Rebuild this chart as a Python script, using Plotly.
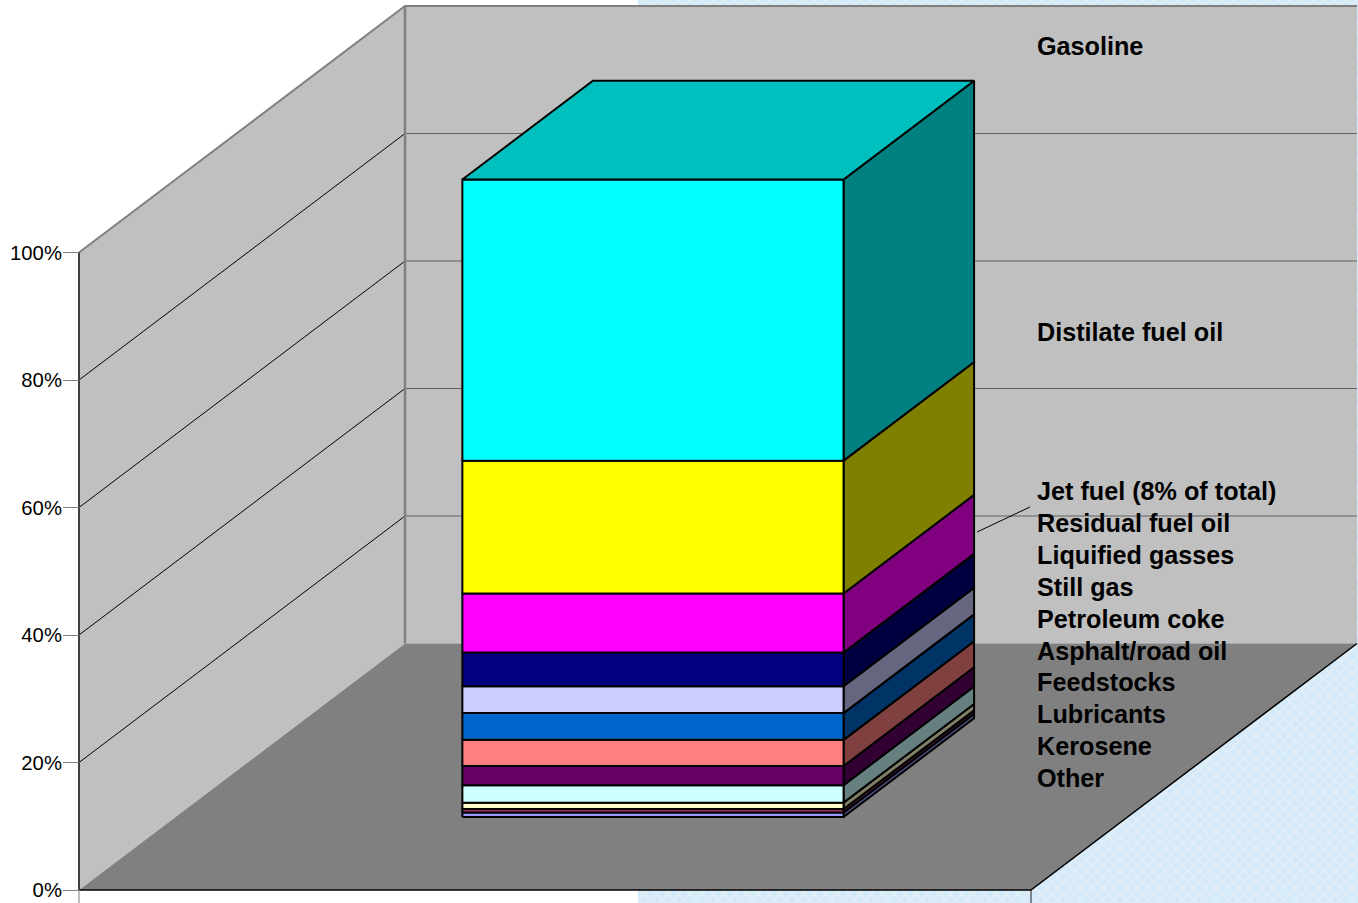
import plotly.graph_objects as go

# ---- data (bottom of the stack first) ----
SERIES = ["Other", "Kerosene", "Lubricants", "Feedstocks", "Asphalt/road oil", "Petroleum coke",
          "Still gas", "Liquified gasses", "Residual fuel oil", "Jet fuel (8% of total)",
          "Distilate fuel oil", "Gasoline"]
VALUES = [0.7, 0.55, 1.0, 2.75, 3.0, 4.1, 4.2, 4.2, 5.3, 9.25, 20.85, 44.1]
COLORS = ["#9999FF", "#993366", "#FFFFCC", "#CCFFFF", "#660066", "#FF8080",
          "#0066CC", "#CCCCFF", "#000080", "#FF00FF", "#FFFF00", "#00FFFF"]
Y_TICKS = [0, 20, 40, 60, 80, 100]
Y_TICK_TEXT = ["0%", "20%", "40%", "60%", "80%", "100%"]

# ---- label positions (page pixels) ----
LABEL_Y = {"Gasoline": 46, "Distilate fuel oil": 332, "Jet fuel (8% of total)": 491,
           "Residual fuel oil": 523, "Liquified gasses": 555, "Still gas": 587,
           "Petroleum coke": 619, "Asphalt/road oil": 651, "Feedstocks": 682,
           "Lubricants": 714, "Kerosene": 746, "Other": 778}

# ---- page geometry ----
W, H = 1358, 903
X0_PX, Y0_PX = 79, 890          # chart origin
PX_PER_PCT = 6.375
WIDTH_PX = 952                  # front edge of the floor
DEPTH_DX, DEPTH_DY = 326, 246.5 # pixels of full depth
BAR_X = (0.3013, 0.7017)        # bar extent across the floor
BAR_D = (0.2961, 0.6965)        # bar extent along the depth


def proj(x, d, v):
    """Oblique projection: x across (0-1), d depth (0-1), v value (%) -> axis coords."""
    return x * WIDTH_PX + d * DEPTH_DX, v + d * DEPTH_DY / PX_PER_PCT


def poly(points, fill, line=None, width=0, **kw):
    pts = [proj(*p) for p in points]
    pts.append(pts[0])
    return go.Scatter(x=[p[0] for p in pts], y=[p[1] for p in pts], mode="lines",
                      fill="toself", fillcolor=fill,
                      line=dict(color=line or fill, width=width),
                      hoverinfo="skip", showlegend=False, **kw)


def seg(points, color, width=1):
    pts = [proj(*p) for p in points]
    return go.Scatter(x=[p[0] for p in pts], y=[p[1] for p in pts], mode="lines",
                      line=dict(color=color, width=width), hoverinfo="skip", showlegend=False)


def shade(hex_color, k):
    rgb = [int(hex_color[i:i + 2], 16) for i in (1, 3, 5)]
    return "#%02X%02X%02X" % tuple(round(c * k) for c in rgb)


fig = go.Figure()

# right-half page background
x_lo = -X0_PX
x_hi = W - X0_PX
y_lo = (Y0_PX - H) / PX_PER_PCT
y_hi = Y0_PX / PX_PER_PCT
fig.add_trace(go.Scatter(x=[638 - X0_PX, x_hi, x_hi, 638 - X0_PX, 638 - X0_PX],
                         y=[y_lo, y_lo, y_hi, y_hi, y_lo], mode="lines", fill="toself",
                         fillcolor="#D9ECF8", line=dict(width=0),
                         fillpattern=dict(shape="x", size=8, solidity=0.45,
                                          bgcolor="#D2EAFA", fgcolor="#E2EEF6", fillmode="replace"),
                         hoverinfo="skip", showlegend=False))

# walls and floor
WALL = "#C0C0C0"
EDGE = "#808080"
TOP = 100
fig.add_trace(poly([(0, 0, 0), (0, 1, 0), (0, 1, TOP), (0, 0, TOP)], WALL))
fig.add_trace(poly([(0, 1, 0), (1, 1, 0), (1, 1, TOP), (0, 1, TOP)], WALL))
fig.add_trace(poly([(0, 0, 0), (1, 0, 0), (1, 1, 0), (0, 1, 0)], EDGE))

# gridlines
for t in Y_TICKS[1:-1]:
    fig.add_trace(seg([(0, 0, t), (0, 1, t)], "#000000", 1))
    fig.add_trace(seg([(0, 1, t), (1, 1, t)], "#606060", 1))
fig.add_trace(seg([(0, 0, TOP), (0, 1, TOP), (1, 1, TOP)], EDGE, 2))
fig.add_trace(seg([(0, 1, 0), (0, 1, TOP)], EDGE, 2.5))
fig.add_trace(seg([(0, 0, 0), (1, 0, 0), (1, 1, 0)], "#000000", 1.5))
fig.add_trace(seg([(0, 0, 0), (0, 0, TOP)], "#404040", 2))

# stacked bar
x1, x2 = BAR_X
d1, d2 = BAR_D
base = 0.0
for name, val, col in zip(SERIES, VALUES, COLORS):
    top = base + val
    fig.add_trace(poly([(x2, d1, base), (x2, d2, base), (x2, d2, top), (x2, d1, top)],
                       shade(col, 0.5), "#000000", 2, name=name))
    fig.add_trace(poly([(x1, d1, base), (x2, d1, base), (x2, d1, top), (x1, d1, top)],
                       col, "#000000", 2, name=name))
    base = top
fig.add_trace(poly([(x1, d1, base), (x2, d1, base), (x2, d2, base), (x1, d2, base)],
                   shade(COLORS[-1], 0.75), "#000000", 2))

fig.update_xaxes(range=[x_lo, x_hi], visible=False, fixedrange=True, domain=[0, 1])
fig.update_yaxes(range=[y_lo, y_hi], fixedrange=True, domain=[0, 1],
                 anchor="free", position=X0_PX / W, showgrid=False, zeroline=False, showline=False,
                 tickmode="array", tickvals=Y_TICKS, ticktext=Y_TICK_TEXT,
                 ticks="outside", ticklen=16, tickwidth=1, tickcolor="#808080",
                 ticklabelstandoff=-3,
                 tickfont=dict(family="Liberation Sans", size=20.3, color="#000000"))

# tails below the floor
for xv, tail in ((0, "#808080"), (WIDTH_PX, "#202020")):
    fig.add_shape(type="line", x0=xv, x1=xv, y0=y_lo, y1=0, line=dict(color=tail, width=1),
                  xref="x", yref="y")

# labels
for name in reversed(SERIES):
    fig.add_annotation(text="<b>%s</b>" % name, xref="paper", yref="paper",
                       x=1035.5 / W, y=1 - LABEL_Y[name] / H,
                       xanchor="left", yanchor="middle", showarrow=False,
                       font=dict(family="Liberation Sans", size=25.2, color="#000000"),
                       borderpad=0, bgcolor="rgba(0,0,0,0)")

# leader line from the jet-fuel segment to its label
fig.add_shape(type="line", xref="paper", yref="paper", x0=977 / W, y0=1 - 532 / H,
              x1=1030 / W, y1=1 - 507 / H, line=dict(color="#000000", width=1))

fig.update_layout(width=W, height=H, margin=dict(l=0, r=0, t=0, b=0),
                  paper_bgcolor="#FFFFFF", plot_bgcolor="rgba(0,0,0,0)", showlegend=False,
                  font=dict(family="Liberation Sans"))

fig.write_html("out.html", config=dict(displayModeBar=False),
               post_script="document.body.style.margin='0';document.body.style.overflow='hidden';")
